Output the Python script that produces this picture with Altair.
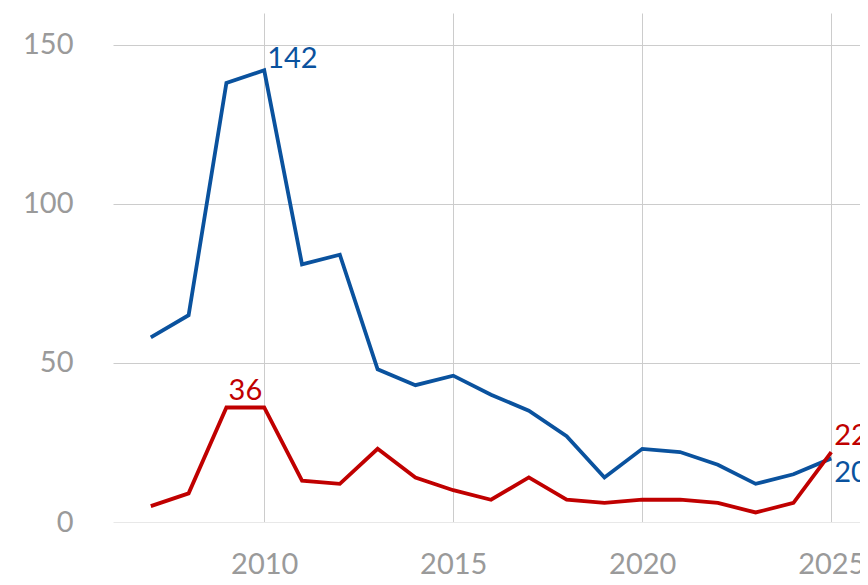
import altair as alt
import pandas as pd

years = list(range(2007, 2026))
blue_values = [58, 65, 138, 142, 81, 84, 48, 43, 46, 40, 35, 27, 14, 23, 22, 18, 12, 15, 20]
red_values = [5, 9, 36, 36, 13, 12, 23, 14, 10, 7, 14, 7, 6, 7, 7, 6, 3, 6, 22]
series_names = ["Blue", "Red"]
series_colors = ["#0a529e", "#c00000"]

x_ticks = [2010, 2015, 2020, 2025]
y_ticks = [0, 50, 100, 150]

# annotated points: (year, value, series, text)
label_years = [2010, 2010, 2025, 2025]
label_values = [142, 36, 22, 20]
label_series = ["Blue", "Red", "Red", "Blue"]
label_texts = ["142", "36", "22", "20"]

df = pd.DataFrame({
    "year": years * 2,
    "value": blue_values + red_values,
    "series": ["Blue"] * len(years) + ["Red"] * len(years),
})
lab = pd.DataFrame({"year": label_years, "value": label_values,
                    "series": label_series, "text": label_texts})

FONT = "Lato"
color = alt.Color("series:N", scale=alt.Scale(domain=series_names, range=series_colors), legend=None)
x = alt.X("year:Q", scale=alt.Scale(domain=[2006, 2025.76], nice=False, zero=False),
          axis=alt.Axis(values=x_ticks, format="d", title=None, ticks=False, domain=False,
                        labelFontSize=29, labelColor="#9a9a9a", labelFont=FONT,
                        labelPadding=28, gridColor="#cccccc", gridWidth=1, labelFlush=False))
y = alt.Y("value:Q", scale=alt.Scale(domain=[0, 160], nice=False),
          axis=alt.Axis(values=y_ticks, title=None, ticks=False, domain=False,
                        labelFontSize=29, labelColor="#9a9a9a", labelFont=FONT,
                        labelPadding=40, gridWidth=1,
                        gridColor={"condition": {"test": "datum.value === 0", "value": "#e8e8e8"},
                                   "value": "#cccccc"}))

lines = alt.Chart(df).mark_line(strokeWidth=3.8).encode(x=x, y=y, color=color, detail="series:N")

def label(i, align, dx, dy):
    return alt.Chart(lab.iloc[[i]]).mark_text(align=align, baseline="alphabetic", dx=dx, dy=dy,
                                               fontSize=29, font=FONT).encode(
        x="year:Q", y="value:Q", text="text:N", color=color)

labels = [label(0, "left", 3, -2), label(1, "right", -2, -7), label(2, "left", 3, -7), label(3, "left", 3, 24)]

chart = alt.layer(lines, *labels).properties(
    width=747, height=509,
    autosize=alt.AutoSizeParams(type="none"),
    padding={"left": 105, "top": 5, "right": 0, "bottom": 55},
).configure_view(stroke=None)

chart.save("out.html", embed_options={"renderer": "svg", "actions": False})
